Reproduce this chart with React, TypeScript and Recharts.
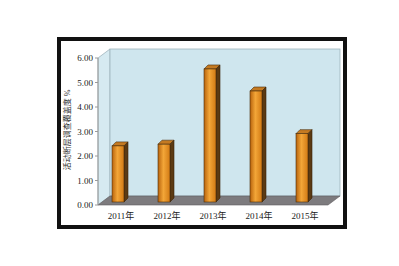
import React from 'react';
import * as Recharts from 'recharts';
import { BarChart, Bar, XAxis, YAxis } from 'recharts';

const years = ['2011年', '2012年', '2013年', '2014年', '2015年'];
const coverage = [2.29, 2.36, 5.43, 4.53, 2.79];
const yTicks = [0, 1, 2, 3, 4, 5, 6];

const data = years.map((year, i) => ({ year, value: coverage[i] }));

const W = 399;
const H = 266;
const Y_AXIS_W = 40;
const X_AXIS_H = 20;
const margin = { top: 58, right: 71, bottom: 61 - X_AXIS_H, left: 98 - Y_AXIS_W };
const DX = 12; // depth offset of the back wall
const DY = -9;
const FONT = '"Liberation Serif", "Noto Sans CJK SC", serif';

// back wall, left wall and floor, drawn from the plot area
const Walls: React.FC = () => {
    const hook = (Recharts as any).usePlotArea;
    const area = hook ? hook() : null;
    const x = area ? area.x : 98;
    const y = area ? area.y : margin.top;
    const w = area ? area.width : W - 98 - margin.right;
    const h = area ? area.height : H - margin.top - 61;
    const b = y + h;
    return (
        <g>
            <polygon
                points={`${x},${y} ${x + DX},${y + DY} ${x + DX},${b + DY} ${x},${b}`}
                fill="#d6eaf1"
                stroke="#9fb4bc"
                strokeWidth={0.8}
            />
            <rect x={x + DX} y={y + DY} width={w} height={h} fill="#cfe6ee" stroke="#9fb4bc" strokeWidth={0.8} />
            <polygon
                points={`${x},${b} ${x + w},${b} ${x + w + DX},${b + DY} ${x + DX},${b + DY}`}
                fill="#7d7b7e"
                stroke="#5f5d60"
                strokeWidth={0.6}
            />
        </g>
    );
};

const Bar3D = (props: any) => {
    const { x, y, width, height } = props;
    if (height == null || height <= 0) return null;
    const fx = x - 3;
    const fy = y - 3;
    const d = 4;
    return (
        <g>
            <polygon
                points={`${fx},${fy} ${fx + d},${fy - d} ${fx + width + d},${fy - d} ${fx + width},${fy}`}
                fill="#c47a22"
                stroke="#4a2e0c"
                strokeWidth={0.6}
            />
            <polygon
                points={`${fx + width},${fy} ${fx + width + d},${fy - d} ${fx + width + d},${fy + height - d} ${fx + width},${fy + height}`}
                fill="#5b3a13"
                stroke="#3a2408"
                strokeWidth={0.6}
            />
            <rect x={fx} y={fy} width={width} height={height} fill="url(#barFace)" stroke="#4a2e0c" strokeWidth={0.6} />
        </g>
    );
};

export default function App() {
    return (
        <div style={{ position: 'absolute', left: 0, top: 0, width: W, height: H, background: '#fff' }}>
            <div
                style={{
                    position: 'absolute',
                    left: 57,
                    top: 37,
                    width: 282,
                    height: 184,
                    border: '4px solid #111',
                }}
            />
            <div
                style={{
                    position: 'absolute',
                    left: 66,
                    top: 130,
                    transform: 'translate(-50%, -50%) rotate(-90deg)',
                    whiteSpace: 'nowrap',
                    fontFamily: FONT,
                    fontSize: 8,
                    color: '#333',
                }}
            >
                活动断层调查覆盖度 %
            </div>
            <div style={{ position: 'absolute', left: 0, top: 0 }}>
                <BarChart width={W} height={H} data={data} margin={margin} barSize={12}>
                    <defs>
                        <linearGradient id="barFace" x1="0" y1="0" x2="1" y2="0">
                            <stop offset="0%" stopColor="#b8630c" />
                            <stop offset="45%" stopColor="#f3a638" />
                            <stop offset="100%" stopColor="#d27a14" />
                        </linearGradient>
                    </defs>
                    <Walls />
                    <XAxis
                        dataKey="year"
                        height={X_AXIS_H}
                        axisLine={false}
                        tickLine={false}
                        tickMargin={2}
                        tick={{ fontSize: 9, fill: '#222', fontFamily: FONT }}
                    />
                    <YAxis
                        width={Y_AXIS_W}
                        domain={[0, 6]}
                        ticks={yTicks}
                        interval={0}
                        tickFormatter={(v: number) => v.toFixed(2)}
                        axisLine={{ stroke: '#9a9a9a' }}
                        tickLine={{ stroke: '#9a9a9a' }}
                        tickSize={3}
                        tickMargin={2}
                        tick={{ fontSize: 9, fill: '#222', fontFamily: FONT }}
                    />
                    <Bar dataKey="value" shape={<Bar3D />} isAnimationActive={false} />
                </BarChart>
            </div>
        </div>
    );
}
